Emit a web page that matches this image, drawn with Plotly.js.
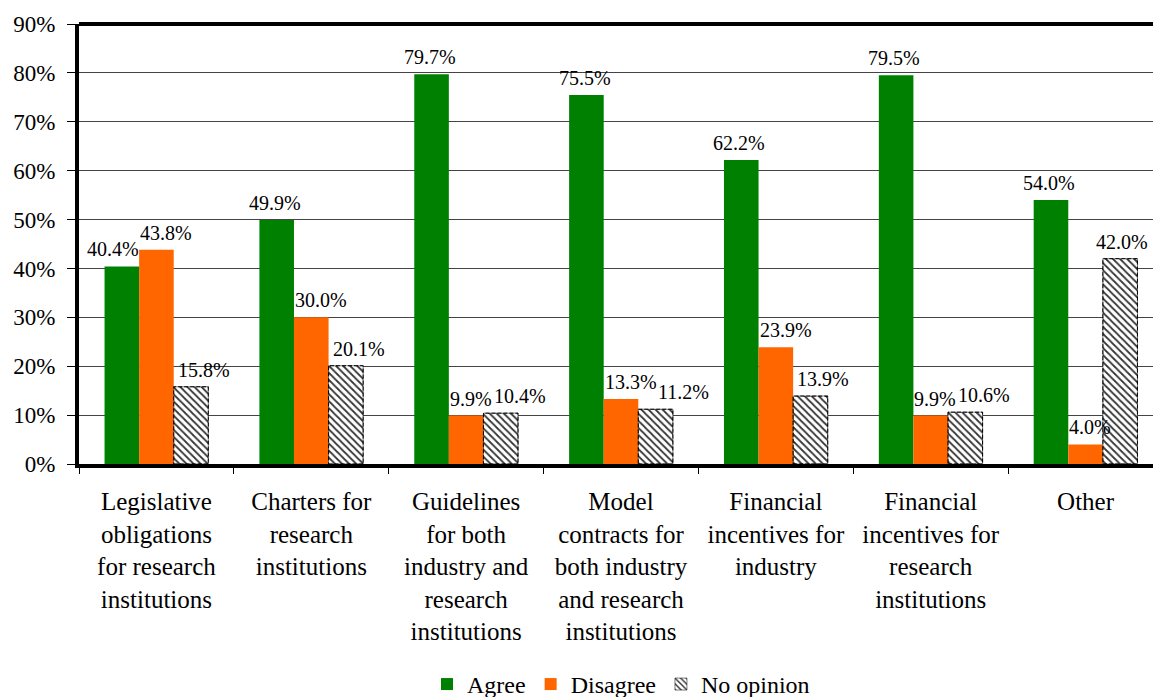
<!DOCTYPE html>
<html>
<head>
<meta charset="utf-8">
<script src="https://cdn.plot.ly/plotly-3.0.1.min.js"></script>
<style>
html, body { margin: 0; padding: 0; overflow: hidden; background: #fff; }
#chart { width: 1163px; height: 697px; }
</style>
</head>
<body>
<div id="chart"></div>
<script>
const categories = [
  "Legislative<br>obligations<br>for research<br>institutions",
  "Charters for<br>research<br>institutions",
  "Guidelines<br>for both<br>industry and<br>research<br>institutions",
  "Model<br>contracts for<br>both industry<br>and research<br>institutions",
  "Financial<br>incentives for<br>industry",
  "Financial<br>incentives for<br>research<br>institutions",
  "Other"
];
const agree = [40.4, 49.9, 79.7, 75.5, 62.2, 79.5, 54.0];
const disagree = [43.8, 30.0, 9.9, 13.3, 23.9, 9.9, 4.0];
const noOpinion = [15.8, 20.1, 10.4, 11.2, 13.9, 10.6, 42.0];
const seriesNames = ["Agree", "Disagree", "No opinion"];
const yTicks = [0, 10, 20, 30, 40, 50, 60, 70, 80, 90];
const yTickText = ["0%", "10%", "20%", "30%", "40%", "50%", "60%", "70%", "80%", "90%"];

const font = "Liberation Serif";
const labelSize = 20;
const labelFont = { family: font, size: labelSize, color: "#000" };
const W = 1163, H = 697, VIEW_W = 1153;
const M = { l: 79, r: 0, t: 24, b: 233 };
const yMax = 90;
const bargap = 0.33;
const bw = (1 - bargap) / 3;

const traces = [
  { type: "bar", name: seriesNames[0], x: categories, y: agree,
    marker: { color: "#008000", line: { width: 0 } }, hoverinfo: "none" },
  { type: "bar", name: seriesNames[1], x: categories, y: disagree,
    marker: { color: "#FF6600", line: { width: 0 } }, hoverinfo: "none" },
  { type: "bar", name: seriesNames[2], x: categories, y: noOpinion,
    marker: {
      color: "#ffffff",
      line: { color: "#000", width: 0.5 },
      pattern: { shape: "\\", fgcolor: "#333", bgcolor: "#fff", size: 5, solidity: 0.35 }
    }, hoverinfo: "none" }
];

// ---- value labels with simple collision avoidance (Excel-like placement) ----
const ctx = document.createElement("canvas").getContext("2d");
ctx.font = labelSize + "px 'Liberation Serif'";
const fmt = v => v.toFixed(1) + "%";
const textW = s => ctx.measureText(s).width;
const catPx = (W - M.l - M.r) / categories.length;
const bwPx = bw * catPx;
const unitPx = (H - M.t - M.b) / yMax;
const lblH = labelSize * 1.15;
const GAP = 5;

const annotations = [];
const shapes = [
  { type: "line", xref: "paper", yref: "paper", x0: 0, x1: 1, y0: 1, y1: 1,
    line: { color: "#000", width: 4 } }
];
categories.forEach((c, i) => {
  const center = M.l + (i + 0.5) * catPx;
  const leftA = center - 1.5 * bwPx, leftD = center - 0.5 * bwPx, leftN = center + 0.5 * bwPx;
  const botA = agree[i] * unitPx, botD = disagree[i] * unitPx, botN = noOpinion[i] * unitPx;
  const tA = fmt(agree[i]), tD = fmt(disagree[i]), tN = fmt(noOpinion[i]);
  const dL = leftD, dR = dL + textW(tD);
  let aL = leftA + bwPx / 2 - textW(tA) / 2 - 3;
  if (Math.abs(botA - botD) < lblH && aL + textW(tA) > dL - 1) aL = dL - 1 - textW(tA);
  let nL = leftN + 3;
  if (Math.abs(botN - botD) < lblH && nL < dR + 2) nL = dR + 2;
  if (nL + textW(tN) > VIEW_W - 6) nL = VIEW_W - 6 - textW(tN);
  [[agree[i], tA, aL, leftA], [disagree[i], tD, dL, leftD], [noOpinion[i], tN, nL, leftN]]
    .forEach(([v, t, px, barLeft], k) => {
      const off = (k - 1) * bw - bw / 2;
      annotations.push({
        xref: "x", yref: "y", x: i + off, y: v,
        text: t, showarrow: false,
        xanchor: "left", yanchor: "bottom",
        xshift: px - barLeft, yshift: GAP,
        borderpad: 0, font: labelFont
      });
    });
  // dashed outline of the "No opinion" bar
  shapes.push({
    type: "rect", xref: "x", yref: "y",
    x0: i + bw / 2, x1: i + 1.5 * bw, y0: 0, y1: noOpinion[i],
    line: { color: "#000", width: 1, dash: "4px,2px" }, fillcolor: "rgba(0,0,0,0)",
    layer: "above"
  });
});

const layout = {
  width: W, height: H,
  margin: M,
  paper_bgcolor: "#fff", plot_bgcolor: "#fff",
  font: { family: font, size: 20, color: "#000" },
  barmode: "group",
  bargap: bargap,
  bargroupgap: 0,
  showlegend: true,
  legend: {
    orientation: "h", xref: "paper", x: 0.5, xanchor: "center",
    yref: "container", y: 0.018, yanchor: "middle",
    font: { family: font, size: 24, color: "#000" },
    itemwidth: 30, tracegroupgap: 0
  },
  xaxis: {
    type: "category", automargin: false,
    showline: true, linecolor: "#000", linewidth: 4,
    ticks: "outside", tickson: "boundaries", ticklen: 6, tickcolor: "#000", tickwidth: 1,
    showgrid: false,
    tickfont: { family: font, size: 25, color: "#000" },
    ticklabelstandoff: 12
  },
  yaxis: {
    range: [0, yMax], automargin: false,
    tickmode: "array",
    tickvals: yTicks,
    ticktext: yTickText,
    showline: true, linecolor: "#000", linewidth: 4,
    ticks: "outside", ticklen: 8, tickcolor: "#000", tickwidth: 1,
    showgrid: true, gridcolor: "#444", gridwidth: 1,
    zeroline: false,
    tickfont: { family: font, size: 23, color: "#000" },
    ticklabelstandoff: 7
  },
  annotations: annotations,
  shapes: shapes
};

Plotly.newPlot("chart", traces, layout, { staticPlot: true, displayModeBar: false });
</script>
</body>
</html>
